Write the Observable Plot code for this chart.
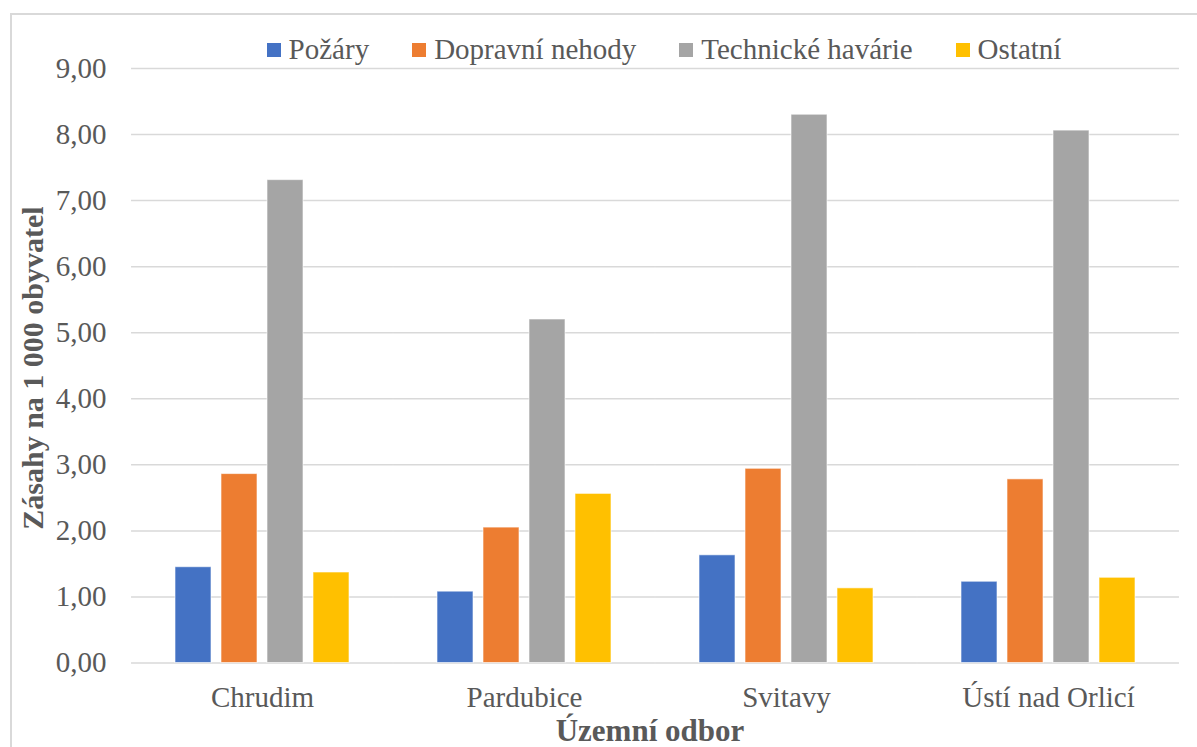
<!DOCTYPE html>
<html>
<head>
<meta charset="utf-8">
<script src="https://cdn.jsdelivr.net/npm/d3@7"></script>
<script src="https://cdn.jsdelivr.net/npm/@observablehq/plot@0.6"></script>
<style>
  body { margin: 0; background: #fff; font-family: "Liberation Serif", "Times New Roman", serif; }
  #wrap { position: relative; width: 1197px; height: 747px; overflow: hidden; }
  #frame { position: absolute; left: 10px; top: 13px; width: 1300px; height: 900px; border: 2px solid #d9d9d9; box-sizing: border-box; }
  #legend { position: absolute; top: 33px; left: 0; width: 1197px; display: flex; justify-content: center; gap: 43px; font-family: "Liberation Serif", serif; font-size: 29px; color: #595959; padding-left: 131px; box-sizing: border-box; }
  #legend span.item { display: flex; align-items: center; gap: 8px; }
  #legend span.sw { width: 14px; height: 14px; display: inline-block; }
  #xtitle { position: absolute; left: 0; width: 1300px; text-align: center; top: 713px; font-family: "Liberation Serif", serif; font-size: 31px; font-weight: bold; color: #595959; }
  #ytitle { position: absolute; left: 33px; top: 368px; transform: translate(-50%, -50%) rotate(-90deg); white-space: nowrap; font-family: "Liberation Serif", serif; font-size: 30px; font-weight: bold; color: #595959; }
  #chart { position: absolute; left: 0; top: 0; }
</style>
</head>
<body>
<div id="wrap">
  <div id="frame"></div>
  <div id="chart"></div>
  <div id="legend"></div>
  <div id="xtitle">Územní odbor</div>
  <div id="ytitle">Zásahy na 1 000 obyvatel</div>
</div>
<script>
const categories = ["Chrudim", "Pardubice", "Svitavy", "Ústí nad Orlicí"];
const series = ["Požáry", "Dopravní nehody", "Technické havárie", "Ostatní"];
const colors = ["#4472C4", "#ED7D31", "#A5A5A5", "#FFC000"];
const pozary = [1.45, 1.08, 1.63, 1.23];
const dopravni = [2.86, 2.05, 2.94, 2.78];
const technicke = [7.31, 5.20, 8.30, 8.06];
const ostatni = [1.37, 2.56, 1.13, 1.29];
const yTicks = [0, 1, 2, 3, 4, 5, 6, 7, 8, 9];

const valuesBySeries = [pozary, dopravni, technicke, ostatni];
const data = [];
categories.forEach((c, i) => {
  series.forEach((s, j) => data.push({category: c, series: s, value: valuesBySeries[j][i]}));
});

const fmt = d => d.toFixed(2).replace(".", ",");

const W = 1197, mL = 131, mR = 18;
const fxPadInner = 0.244, fxPadOuter = fxPadInner / 2;
const facetStep = (W - mL - mR) / categories.length;
const halfGap = facetStep * fxPadInner / 2;

const chart = Plot.plot({
  width: W,
  height: 747,
  marginLeft: mL,
  marginRight: mR,
  marginTop: 68,
  marginBottom: 84.5,
  style: {fontFamily: "'Liberation Serif', 'Times New Roman', serif", color: "#595959", background: "transparent"},
  fx: {domain: categories, paddingInner: fxPadInner, paddingOuter: fxPadOuter, label: null},
  x: {domain: series, padding: 0.213, axis: null},
  y: {domain: [0, 9], label: null},
  color: {domain: series, range: colors},
  marks: [
    Plot.ruleY(yTicks, {stroke: "#d9d9d9", strokeWidth: 1.5, insetLeft: -halfGap, insetRight: -halfGap}),
    Plot.barY(data, {fx: "category", x: "series", y: "value", fill: "series", stroke: "white", strokeOpacity: 0.6, strokeWidth: 1}),
    Plot.axisY(yTicks, {tickFormat: fmt, tickSize: 0, tickPadding: 25 + halfGap, fontSize: 29, label: null}),
    Plot.axisFx({anchor: "bottom", tickSize: 0, tickPadding: 23, fontSize: 29, label: null})
  ]
});
document.getElementById("chart").appendChild(chart);

const legend = document.getElementById("legend");
series.forEach((s, j) => {
  const item = document.createElement("span");
  item.className = "item";
  const sw = document.createElement("span");
  sw.className = "sw";
  sw.style.background = colors[j];
  item.appendChild(sw);
  item.appendChild(document.createTextNode(s));
  legend.appendChild(item);
});
</script>
</body>
</html>
